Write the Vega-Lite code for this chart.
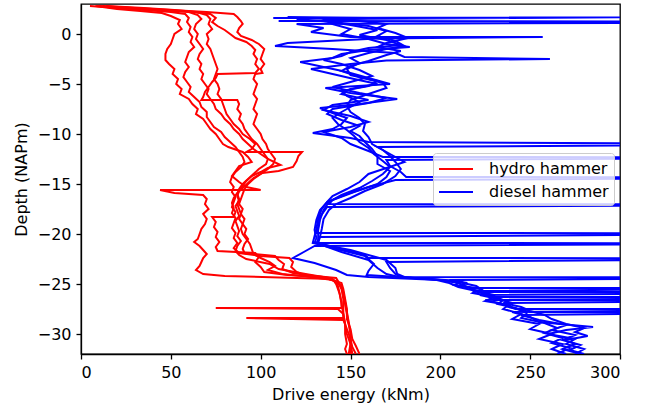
{
"$schema": "https://vega.github.io/schema/vega-lite/v6.json",
"width": 539, "height": 350,
"autosize": {"type": "none"},
"padding": {"left": 81, "top": 4, "right": 26, "bottom": 52},
"config": {
  "font": "DejaVu Sans",
  "view": {"stroke": "black", "strokeWidth": 1.3},
  "axis": {"grid": false, "domainColor": "black", "domainWidth": 1.3, "tickColor": "black", "tickSize": 5, "tickWidth": 1.3, "labelColor": "black", "labelFontSize": 16, "labelPadding": 5, "titleFontSize": 16, "titleFontWeight": "normal", "titleColor": "black", "labelFont": "DejaVu Sans", "titleFont": "DejaVu Sans"},
  "axisX": {"titlePadding": 6},
  "axisY": {"titlePadding": 8},
  "legend": {"orient": "none", "legendX": 352, "legendY": 149, "symbolType": "M-1,0H2.4", "symbolSize": 400, "symbolStrokeWidth": 2, "labelFontSize": 16, "labelFont": "DejaVu Sans", "labelColor": "black", "labelOffset": 29, "padding": 5, "rowPadding": 4, "fillColor": "rgba(255,255,255,0.8)", "strokeColor": "#cccccc", "cornerRadius": 3}
},
"layer": [
{
"data": {"values": [
{"p":1,"d":2.8,"e":5},{"p":1,"d":2.7,"e":12},{"p":1,"d":2.5,"e":20},{"p":1,"d":2.3,"e":33},{"p":1,"d":2.1,"e":45},{"p":1,"d":1.8,"e":50},{"p":1,"d":1.4,"e":55},{"p":1,"d":1.0,"e":54},{"p":1,"d":0.5,"e":56},{"p":1,"d":0,"e":52},{"p":1,"d":-0.5,"e":51},{"p":1,"d":-1,"e":50},{"p":1,"d":-1.5,"e":48},{"p":1,"d":-2,"e":47},{"p":1,"d":-2.6,"e":47},{"p":1,"d":-3,"e":49},{"p":1,"d":-3.5,"e":52},{"p":1,"d":-4,"e":51},{"p":1,"d":-4.5,"e":54},{"p":1,"d":-5,"e":53},{"p":1,"d":-5.5,"e":56},{"p":1,"d":-6,"e":55},{"p":1,"d":-6.5,"e":60},{"p":1,"d":-7,"e":62},{"p":1,"d":-7.5,"e":65},{"p":1,"d":-8,"e":64},{"p":1,"d":-8.5,"e":68},{"p":1,"d":-9,"e":70},{"p":1,"d":-9.5,"e":72},{"p":1,"d":-10,"e":75},{"p":1,"d":-10.5,"e":77},{"p":1,"d":-11,"e":79},{"p":1,"d":-11.3,"e":82},{"p":1,"d":-11.8,"e":90},{"p":1,"d":-12.3,"e":93},{"p":1,"d":-12.8,"e":95},{"p":1,"d":-13.2,"e":88},{"p":1,"d":-13.7,"e":86},{"p":1,"d":-14.2,"e":84},{"p":1,"d":-14.8,"e":88},{"p":1,"d":-15.3,"e":92},{"p":1,"d":-15.6,"e":100},{"p":1,"d":-15.6,"e":44},{"p":1,"d":-15.9,"e":52},{"p":1,"d":-16.1,"e":68},{"p":1,"d":-16.5,"e":70},{"p":1,"d":-17,"e":69},{"p":1,"d":-17.5,"e":71},{"p":1,"d":-18,"e":68},{"p":1,"d":-18.5,"e":70},{"p":1,"d":-19,"e":69},{"p":1,"d":-19.5,"e":67},{"p":1,"d":-20,"e":66},{"p":1,"d":-20.5,"e":65},{"p":1,"d":-20.8,"e":63},{"p":1,"d":-21.2,"e":66},{"p":1,"d":-21.6,"e":68},{"p":1,"d":-22,"e":70},{"p":1,"d":-22.4,"e":68},{"p":1,"d":-22.8,"e":67},{"p":1,"d":-23.2,"e":66},{"p":1,"d":-23.6,"e":64},{"p":1,"d":-24,"e":68},{"p":1,"d":-24.2,"e":80},{"p":1,"d":-24.4,"e":120},{"p":1,"d":-24.5,"e":140},{"p":1,"d":-25,"e":142},{"p":1,"d":-25.5,"e":143},{"p":1,"d":-26,"e":144},{"p":1,"d":-27,"e":145},{"p":1,"d":-28,"e":146},{"p":1,"d":-29,"e":147},{"p":1,"d":-30,"e":147},{"p":1,"d":-31,"e":148},{"p":1,"d":-31.5,"e":147},{"p":1,"d":-32,"e":148},
{"p":2,"d":2.8,"e":8},{"p":2,"d":2.6,"e":20},{"p":2,"d":2.4,"e":35},{"p":2,"d":2.2,"e":50},{"p":2,"d":2,"e":58},{"p":2,"d":1.6,"e":60},{"p":2,"d":1.2,"e":59},{"p":2,"d":0.7,"e":61},{"p":2,"d":0.2,"e":60},{"p":2,"d":-0.3,"e":62},{"p":2,"d":-0.8,"e":61},{"p":2,"d":-1.3,"e":63},{"p":2,"d":-1.8,"e":60},{"p":2,"d":-2.3,"e":59},{"p":2,"d":-2.8,"e":58},{"p":2,"d":-3.3,"e":60},{"p":2,"d":-3.8,"e":58},{"p":2,"d":-4.3,"e":57},{"p":2,"d":-4.8,"e":59},{"p":2,"d":-5.3,"e":61},{"p":2,"d":-5.8,"e":60},{"p":2,"d":-6.3,"e":63},{"p":2,"d":-6.8,"e":66},{"p":2,"d":-7.3,"e":67},{"p":2,"d":-7.8,"e":70},{"p":2,"d":-8.3,"e":70},{"p":2,"d":-8.8,"e":72},{"p":2,"d":-9.3,"e":74},{"p":2,"d":-9.8,"e":78},{"p":2,"d":-10.3,"e":80},{"p":2,"d":-10.8,"e":83},{"p":2,"d":-11.3,"e":86},{"p":2,"d":-11.8,"e":88},{"p":2,"d":-12.3,"e":90},{"p":2,"d":-12.8,"e":91},{"p":2,"d":-13.3,"e":89},{"p":2,"d":-13.8,"e":86},{"p":2,"d":-14.3,"e":84},{"p":2,"d":-14.8,"e":83},{"p":2,"d":-15.3,"e":85},{"p":2,"d":-15.8,"e":84},{"p":2,"d":-16.3,"e":86},{"p":2,"d":-16.8,"e":85},{"p":2,"d":-17.3,"e":84},{"p":2,"d":-17.8,"e":86},{"p":2,"d":-18.3,"e":85},{"p":2,"d":-18.3,"e":73},{"p":2,"d":-18.8,"e":75},{"p":2,"d":-19.3,"e":74},{"p":2,"d":-19.8,"e":76},{"p":2,"d":-20.3,"e":75},{"p":2,"d":-20.8,"e":77},{"p":2,"d":-21.3,"e":75},{"p":2,"d":-21.7,"e":76},{"p":2,"d":-21.9,"e":97},{"p":2,"d":-22.3,"e":99},{"p":2,"d":-22.8,"e":97},{"p":2,"d":-23.3,"e":100},{"p":2,"d":-23.8,"e":102},{"p":2,"d":-24.1,"e":115},{"p":2,"d":-24.3,"e":135},{"p":2,"d":-24.7,"e":141},{"p":2,"d":-25.2,"e":143},{"p":2,"d":-26,"e":144},{"p":2,"d":-26.8,"e":145},{"p":2,"d":-27.4,"e":145},{"p":2,"d":-27.4,"e":75},{"p":2,"d":-27.5,"e":143},{"p":2,"d":-28,"e":146},{"p":2,"d":-29,"e":147},{"p":2,"d":-30,"e":148},{"p":2,"d":-31,"e":150},{"p":2,"d":-32,"e":149},
{"p":3,"d":2.8,"e":10},{"p":3,"d":2.6,"e":28},{"p":3,"d":2.4,"e":45},{"p":3,"d":2.2,"e":60},{"p":3,"d":1.9,"e":65},{"p":3,"d":1.5,"e":67},{"p":3,"d":1,"e":64},{"p":3,"d":0.5,"e":63},{"p":3,"d":0,"e":65},{"p":3,"d":-0.5,"e":64},{"p":3,"d":-1,"e":66},{"p":3,"d":-1.5,"e":68},{"p":3,"d":-2,"e":66},{"p":3,"d":-2.5,"e":65},{"p":3,"d":-3,"e":67},{"p":3,"d":-3.5,"e":66},{"p":3,"d":-4,"e":68},{"p":3,"d":-4.5,"e":67},{"p":3,"d":-5,"e":69},{"p":3,"d":-5.5,"e":71},{"p":3,"d":-6,"e":70},{"p":3,"d":-6.5,"e":72},{"p":3,"d":-7,"e":74},{"p":3,"d":-7.5,"e":75},{"p":3,"d":-8,"e":78},{"p":3,"d":-8.5,"e":80},{"p":3,"d":-9,"e":83},{"p":3,"d":-9.5,"e":85},{"p":3,"d":-10,"e":88},{"p":3,"d":-10.5,"e":90},{"p":3,"d":-11,"e":93},{"p":3,"d":-11.5,"e":96},{"p":3,"d":-12,"e":100},{"p":3,"d":-12.5,"e":104},{"p":3,"d":-13.1,"e":111},{"p":3,"d":-13.4,"e":104},{"p":3,"d":-13.8,"e":100},{"p":3,"d":-14.2,"e":95},{"p":3,"d":-14.7,"e":92},{"p":3,"d":-15.2,"e":90},{"p":3,"d":-15.7,"e":88},{"p":3,"d":-16.2,"e":87},{"p":3,"d":-16.7,"e":88},{"p":3,"d":-17.2,"e":86},{"p":3,"d":-17.7,"e":87},{"p":3,"d":-18.2,"e":88},{"p":3,"d":-18.7,"e":86},{"p":3,"d":-19.2,"e":87},{"p":3,"d":-19.7,"e":88},{"p":3,"d":-20.2,"e":87},{"p":3,"d":-20.7,"e":89},{"p":3,"d":-21.2,"e":87},{"p":3,"d":-21.7,"e":86},{"p":3,"d":-22.1,"e":88},{"p":3,"d":-22.5,"e":92},{"p":3,"d":-23,"e":105},{"p":3,"d":-23.5,"e":110},{"p":3,"d":-24,"e":125},{"p":3,"d":-24.4,"e":138},{"p":3,"d":-24.8,"e":143},{"p":3,"d":-25.5,"e":145},{"p":3,"d":-26.5,"e":146},{"p":3,"d":-27.5,"e":146},{"p":3,"d":-28.4,"e":146},{"p":3,"d":-28.4,"e":92},{"p":3,"d":-28.6,"e":146},{"p":3,"d":-29.5,"e":148},{"p":3,"d":-30.5,"e":150},{"p":3,"d":-31.3,"e":151},{"p":3,"d":-32,"e":153},
{"p":4,"d":2.8,"e":14},{"p":4,"d":2.6,"e":35},{"p":4,"d":2.4,"e":52},{"p":4,"d":2.2,"e":64},{"p":4,"d":1.9,"e":70},{"p":4,"d":1.5,"e":72},{"p":4,"d":1,"e":71},{"p":4,"d":0.5,"e":73},{"p":4,"d":0,"e":70},{"p":4,"d":-0.5,"e":71},{"p":4,"d":-1,"e":70},{"p":4,"d":-1.5,"e":72},{"p":4,"d":-2,"e":73},{"p":4,"d":-2.5,"e":74},{"p":4,"d":-3,"e":75},{"p":4,"d":-3.5,"e":76},{"p":4,"d":-4,"e":75},{"p":4,"d":-4.5,"e":74},{"p":4,"d":-5,"e":76},{"p":4,"d":-5.5,"e":77},{"p":4,"d":-6,"e":76},{"p":4,"d":-6.5,"e":78},{"p":4,"d":-7,"e":79},{"p":4,"d":-7.5,"e":80},{"p":4,"d":-8,"e":81},{"p":4,"d":-8.5,"e":83},{"p":4,"d":-9,"e":85},{"p":4,"d":-9.5,"e":88},{"p":4,"d":-10,"e":90},{"p":4,"d":-10.5,"e":94},{"p":4,"d":-11,"e":97},{"p":4,"d":-11.5,"e":95},{"p":4,"d":-11.8,"e":92},{"p":4,"d":-11.8,"e":123},{"p":4,"d":-12.2,"e":121},{"p":4,"d":-12.7,"e":120},{"p":4,"d":-13.3,"e":118},{"p":4,"d":-13.7,"e":110},{"p":4,"d":-13.9,"e":101},{"p":4,"d":-14.4,"e":96},{"p":4,"d":-14.9,"e":93},{"p":4,"d":-15.4,"e":90},{"p":4,"d":-15.9,"e":87},{"p":4,"d":-16.4,"e":85},{"p":4,"d":-16.9,"e":84},{"p":4,"d":-17.4,"e":85},{"p":4,"d":-17.9,"e":84},{"p":4,"d":-18.4,"e":86},{"p":4,"d":-18.9,"e":85},{"p":4,"d":-19.4,"e":84},{"p":4,"d":-19.9,"e":86},{"p":4,"d":-20.4,"e":85},{"p":4,"d":-20.9,"e":87},{"p":4,"d":-21.4,"e":85},{"p":4,"d":-21.9,"e":88},{"p":4,"d":-22.2,"e":100},{"p":4,"d":-22.4,"e":116},{"p":4,"d":-22.8,"e":118},{"p":4,"d":-23.3,"e":117},{"p":4,"d":-23.8,"e":120},{"p":4,"d":-24.2,"e":125},{"p":4,"d":-24.5,"e":138},{"p":4,"d":-24.9,"e":145},{"p":4,"d":-25.5,"e":146},{"p":4,"d":-26.5,"e":147},{"p":4,"d":-27.5,"e":148},{"p":4,"d":-28.5,"e":148},{"p":4,"d":-29.5,"e":150},{"p":4,"d":-30.5,"e":151},{"p":4,"d":-31.2,"e":153},{"p":4,"d":-32,"e":155},
{"p":5,"d":2.8,"e":12},{"p":5,"d":2.6,"e":30},{"p":5,"d":2.4,"e":50},{"p":5,"d":2.2,"e":70},{"p":5,"d":2,"e":85},{"p":5,"d":1.7,"e":87},{"p":5,"d":1.3,"e":89},{"p":5,"d":1,"e":90},{"p":5,"d":0.6,"e":88},{"p":5,"d":0.2,"e":87},{"p":5,"d":-0.2,"e":89},{"p":5,"d":-0.6,"e":95},{"p":5,"d":-1,"e":99},{"p":5,"d":-1.5,"e":102},{"p":5,"d":-2,"e":101},{"p":5,"d":-2.5,"e":100},{"p":5,"d":-3,"e":102},{"p":5,"d":-3.5,"e":100},{"p":5,"d":-3.9,"e":101},{"p":5,"d":-4,"e":97},{"p":5,"d":-4.5,"e":96},{"p":5,"d":-5,"e":98},{"p":5,"d":-5.5,"e":97},{"p":5,"d":-6,"e":96},{"p":5,"d":-6.5,"e":98},{"p":5,"d":-7,"e":97},{"p":5,"d":-7.5,"e":96},{"p":5,"d":-8,"e":98},{"p":5,"d":-8.5,"e":97},{"p":5,"d":-9,"e":96},{"p":5,"d":-9.5,"e":98},{"p":5,"d":-10,"e":100},{"p":5,"d":-10.5,"e":101},{"p":5,"d":-11,"e":103},{"p":5,"d":-11.5,"e":104},{"p":5,"d":-12,"e":106},{"p":5,"d":-12.5,"e":108},{"p":5,"d":-13,"e":107},{"p":5,"d":-13.5,"e":104},{"p":5,"d":-14,"e":100},{"p":5,"d":-14.5,"e":96},{"p":5,"d":-15,"e":93},{"p":5,"d":-15.5,"e":91},{"p":5,"d":-16,"e":90},{"p":5,"d":-16.5,"e":89},{"p":5,"d":-17,"e":88},{"p":5,"d":-17.5,"e":90},{"p":5,"d":-18,"e":89},{"p":5,"d":-18.5,"e":91},{"p":5,"d":-19,"e":90},{"p":5,"d":-19.5,"e":92},{"p":5,"d":-20,"e":91},{"p":5,"d":-20.5,"e":93},{"p":5,"d":-21,"e":91},{"p":5,"d":-21.5,"e":90},{"p":5,"d":-21.9,"e":91},{"p":5,"d":-22.2,"e":108},{"p":5,"d":-22.6,"e":110},{"p":5,"d":-23,"e":113},{"p":5,"d":-23.5,"e":112},{"p":5,"d":-23.9,"e":118},{"p":5,"d":-24.2,"e":130},{"p":5,"d":-24.4,"e":142},{"p":5,"d":-25,"e":144},{"p":5,"d":-25.8,"e":146},{"p":5,"d":-26.8,"e":147},{"p":5,"d":-27.8,"e":148},{"p":5,"d":-28.8,"e":149},{"p":5,"d":-29.8,"e":150},{"p":5,"d":-30.8,"e":150},{"p":5,"d":-32,"e":151},
{"p":6,"d":2.8,"e":9},{"p":6,"d":2.6,"e":25},{"p":6,"d":2.4,"e":45},{"p":6,"d":2.2,"e":62},{"p":6,"d":2,"e":72},{"p":6,"d":1.6,"e":75},{"p":6,"d":1.2,"e":73},{"p":6,"d":0.8,"e":76},{"p":6,"d":0.4,"e":80},{"p":6,"d":0,"e":83},{"p":6,"d":-0.4,"e":86},{"p":6,"d":-0.8,"e":92},{"p":6,"d":-1.2,"e":95},{"p":6,"d":-1.6,"e":97},{"p":6,"d":-2,"e":96},{"p":6,"d":-2.5,"e":98},{"p":6,"d":-3,"e":97},{"p":6,"d":-3.5,"e":99},{"p":6,"d":-3.9,"e":97},{"p":6,"d":-4,"e":76},{"p":6,"d":-4.4,"e":75},{"p":6,"d":-4.8,"e":73},{"p":6,"d":-5.3,"e":71},{"p":6,"d":-5.8,"e":69},{"p":6,"d":-6.3,"e":68},{"p":6,"d":-6.6,"e":67},{"p":6,"d":-6.6,"e":87},{"p":6,"d":-7,"e":88},{"p":6,"d":-7.5,"e":87},{"p":6,"d":-8,"e":89},{"p":6,"d":-8.5,"e":88},{"p":6,"d":-9,"e":90},{"p":6,"d":-9.5,"e":91},{"p":6,"d":-10,"e":93},{"p":6,"d":-10.5,"e":95},{"p":6,"d":-11,"e":98},{"p":6,"d":-11.5,"e":100},{"p":6,"d":-12,"e":102},{"p":6,"d":-12.5,"e":104},{"p":6,"d":-13,"e":103},{"p":6,"d":-13.5,"e":99},{"p":6,"d":-14,"e":96},{"p":6,"d":-14.5,"e":93},{"p":6,"d":-15,"e":90},{"p":6,"d":-15.5,"e":88},{"p":6,"d":-16,"e":87},{"p":6,"d":-16.5,"e":88},{"p":6,"d":-17,"e":87},{"p":6,"d":-17.5,"e":88},{"p":6,"d":-18,"e":89},{"p":6,"d":-18.5,"e":88},{"p":6,"d":-19,"e":90},{"p":6,"d":-19.5,"e":89},{"p":6,"d":-20,"e":90},{"p":6,"d":-20.5,"e":92},{"p":6,"d":-21,"e":94},{"p":6,"d":-21.5,"e":95},{"p":6,"d":-22,"e":96},{"p":6,"d":-22.4,"e":100},{"p":6,"d":-22.8,"e":105},{"p":6,"d":-23.2,"e":108},{"p":6,"d":-23.6,"e":104},{"p":6,"d":-24,"e":112},{"p":6,"d":-24.3,"e":128},{"p":6,"d":-24.6,"e":140},{"p":6,"d":-25.2,"e":145},{"p":6,"d":-26,"e":146},{"p":6,"d":-27,"e":147},{"p":6,"d":-28,"e":148},{"p":6,"d":-29,"e":149},{"p":6,"d":-30,"e":150},{"p":6,"d":-31,"e":150},{"p":6,"d":-32,"e":150}
]},
"mark": {"type": "line", "clip": true, "strokeWidth": 2},
"encoding": {
  "x": {"field": "e", "type": "quantitative", "scale": {"domain": [0, 300], "nice": false}, "axis": {"title": "Drive energy (kNm)", "values": [0, 50, 100, 150, 200, 250, 300]}},
  "y": {"field": "d", "type": "quantitative", "scale": {"domain": [-32, 3], "nice": false}, "axis": {"title": "Depth (NAPm)", "values": [-30, -25, -20, -15, -10, -5, 0]}},
  "detail": {"field": "p"},
  "color": {"datum": "hydro hammer", "type": "nominal", "scale": {"domain": ["hydro hammer", "diesel hammer"], "range": ["#ff0000", "#0000ff"]}, "legend": {"title": null}},
  "order": {"value": null}
}
},
{
"data": {"values": [
{"p":1,"d":1.6,"e":107},{"p":1,"d":1.65,"e":250},{"p":1,"d":1.7,"e":400},{"p":1,"d":1.75,"e":400},{"p":1,"d":1.5,"e":135},{"p":1,"d":1.0,"e":140},{"p":1,"d":0.5,"e":150},{"p":1,"d":0,"e":145},{"p":1,"d":-0.5,"e":160},{"p":1,"d":-1,"e":170},{"p":1,"d":-1.3,"e":183},{"p":1,"d":-1.6,"e":160},{"p":1,"d":-2,"e":145},{"p":1,"d":-2.4,"e":140},{"p":1,"d":-2.8,"e":122},{"p":1,"d":-3.3,"e":135},{"p":1,"d":-3.8,"e":148},{"p":1,"d":-4.4,"e":160},{"p":1,"d":-5,"e":172},{"p":1,"d":-5.4,"e":136},{"p":1,"d":-5.9,"e":150},{"p":1,"d":-6.5,"e":176},{"p":1,"d":-7,"e":155},{"p":1,"d":-7.4,"e":133},{"p":1,"d":-7.9,"e":140},{"p":1,"d":-8.4,"e":148},{"p":1,"d":-9,"e":145},{"p":1,"d":-9.5,"e":140},{"p":1,"d":-9.9,"e":129},{"p":1,"d":-10.4,"e":150},{"p":1,"d":-10.8,"e":160},{"p":1,"d":-11,"e":400},{"p":1,"d":-11.05,"e":400},{"p":1,"d":-11.3,"e":165},{"p":1,"d":-12,"e":172},{"p":1,"d":-12.8,"e":180},{"p":1,"d":-13.4,"e":170},{"p":1,"d":-14,"e":160},{"p":1,"d":-14.8,"e":155},{"p":1,"d":-15.5,"e":148},{"p":1,"d":-16.2,"e":140},{"p":1,"d":-16.8,"e":137},{"p":1,"d":-17.5,"e":134},{"p":1,"d":-18.5,"e":132},{"p":1,"d":-19.5,"e":131},{"p":1,"d":-20.2,"e":130},{"p":1,"d":-20.9,"e":129},{"p":1,"d":-21.6,"e":150},{"p":1,"d":-22.6,"e":170},{"p":1,"d":-23.4,"e":175},{"p":1,"d":-24,"e":176},{"p":1,"d":-24.3,"e":180},{"p":1,"d":-24.35,"e":400},{"p":1,"d":-24.4,"e":400},{"p":1,"d":-24.6,"e":205},{"p":1,"d":-24.9,"e":215},{"p":1,"d":-25.2,"e":210},{"p":1,"d":-25.5,"e":222},{"p":1,"d":-25.9,"e":218},{"p":1,"d":-26.3,"e":230},{"p":1,"d":-26.7,"e":225},{"p":1,"d":-27.1,"e":238},{"p":1,"d":-27.5,"e":235},{"p":1,"d":-28,"e":245},{"p":1,"d":-28.5,"e":240},{"p":1,"d":-29,"e":255},{"p":1,"d":-29.5,"e":250},{"p":1,"d":-30,"e":262},{"p":1,"d":-30.5,"e":255},{"p":1,"d":-31,"e":268},{"p":1,"d":-31.5,"e":262},{"p":1,"d":-32,"e":270},
{"p":2,"d":1.3,"e":110},{"p":2,"d":1.25,"e":300},{"p":2,"d":1.2,"e":400},{"p":2,"d":1.15,"e":400},{"p":2,"d":1.0,"e":120},{"p":2,"d":0.6,"e":135},{"p":2,"d":0.2,"e":128},{"p":2,"d":-0.3,"e":150},{"p":2,"d":-0.3,"e":257},{"p":2,"d":-0.45,"e":165},{"p":2,"d":-0.9,"e":115},{"p":2,"d":-1.2,"e":108},{"p":2,"d":-1.5,"e":140},{"p":2,"d":-1.9,"e":175},{"p":2,"d":-2.3,"e":180},{"p":2,"d":-2.5,"e":261},{"p":2,"d":-2.65,"e":170},{"p":2,"d":-3,"e":150},{"p":2,"d":-3.5,"e":128},{"p":2,"d":-4,"e":140},{"p":2,"d":-4.5,"e":152},{"p":2,"d":-5,"e":165},{"p":2,"d":-5.5,"e":150},{"p":2,"d":-6,"e":145},{"p":2,"d":-6.6,"e":160},{"p":2,"d":-7.1,"e":140},{"p":2,"d":-7.6,"e":135},{"p":2,"d":-8.2,"e":150},{"p":2,"d":-8.8,"e":160},{"p":2,"d":-9.3,"e":150},{"p":2,"d":-9.8,"e":135},{"p":2,"d":-10.4,"e":145},{"p":2,"d":-11,"e":150},{"p":2,"d":-11.7,"e":160},{"p":2,"d":-12.3,"e":168},{"p":2,"d":-12.33,"e":400},{"p":2,"d":-12.38,"e":400},{"p":2,"d":-12.6,"e":170},{"p":2,"d":-13.2,"e":172},{"p":2,"d":-13.8,"e":178},{"p":2,"d":-14.3,"e":181},{"p":2,"d":-14.33,"e":400},{"p":2,"d":-14.38,"e":400},{"p":2,"d":-14.6,"e":175},{"p":2,"d":-15.3,"e":160},{"p":2,"d":-16,"e":148},{"p":2,"d":-16.8,"e":137},{"p":2,"d":-17.6,"e":133},{"p":2,"d":-18.6,"e":131},{"p":2,"d":-19.6,"e":130},{"p":2,"d":-20.4,"e":131},{"p":2,"d":-20.9,"e":130},{"p":2,"d":-21.4,"e":140},{"p":2,"d":-22.2,"e":158},{"p":2,"d":-23,"e":163},{"p":2,"d":-23.7,"e":160},{"p":2,"d":-24.1,"e":159},{"p":2,"d":-24.4,"e":185},{"p":2,"d":-24.7,"e":212},{"p":2,"d":-25.1,"e":208},{"p":2,"d":-25.4,"e":220},{"p":2,"d":-25.4,"e":400},{"p":2,"d":-25.45,"e":400},{"p":2,"d":-25.7,"e":218},{"p":2,"d":-26.1,"e":228},{"p":2,"d":-26.6,"e":235},{"p":2,"d":-27,"e":232},{"p":2,"d":-27.4,"e":242},{"p":2,"d":-27.9,"e":248},{"p":2,"d":-28.4,"e":245},{"p":2,"d":-28.9,"e":258},{"p":2,"d":-29.4,"e":265},{"p":2,"d":-29.9,"e":258},{"p":2,"d":-30.4,"e":268},{"p":2,"d":-30.9,"e":262},{"p":2,"d":-31.4,"e":272},{"p":2,"d":-32,"e":265},
{"p":3,"d":1.7,"e":115},{"p":3,"d":1.6,"e":160},{"p":3,"d":1.3,"e":135},{"p":3,"d":0.9,"e":150},{"p":3,"d":0.4,"e":165},{"p":3,"d":-0.1,"e":155},{"p":3,"d":-0.6,"e":170},{"p":3,"d":-1.1,"e":178},{"p":3,"d":-1.4,"e":160},{"p":3,"d":-1.8,"e":150},{"p":3,"d":-2.2,"e":145},{"p":3,"d":-2.6,"e":135},{"p":3,"d":-3,"e":145},{"p":3,"d":-3.6,"e":155},{"p":3,"d":-4.2,"e":162},{"p":3,"d":-4.8,"e":150},{"p":3,"d":-5.3,"e":140},{"p":3,"d":-5.9,"e":155},{"p":3,"d":-6.4,"e":170},{"p":3,"d":-6.9,"e":160},{"p":3,"d":-7.5,"e":140},{"p":3,"d":-8,"e":137},{"p":3,"d":-8.6,"e":145},{"p":3,"d":-9.2,"e":155},{"p":3,"d":-9.7,"e":150},{"p":3,"d":-10.2,"e":155},{"p":3,"d":-10.8,"e":158},{"p":3,"d":-11.5,"e":162},{"p":3,"d":-12.2,"e":165},{"p":3,"d":-13,"e":165},{"p":3,"d":-13.7,"e":172},{"p":3,"d":-14.3,"e":170},{"p":3,"d":-15,"e":165},{"p":3,"d":-15.8,"e":152},{"p":3,"d":-16.6,"e":140},{"p":3,"d":-17,"e":138},{"p":3,"d":-17.05,"e":400},{"p":3,"d":-17.1,"e":400},{"p":3,"d":-17.3,"e":137},{"p":3,"d":-18.3,"e":133},{"p":3,"d":-19.3,"e":132},{"p":3,"d":-19.9,"e":131},{"p":3,"d":-19.93,"e":400},{"p":3,"d":-19.98,"e":400},{"p":3,"d":-20.3,"e":133},{"p":3,"d":-20.9,"e":131},{"p":3,"d":-21.8,"e":145},{"p":3,"d":-22.6,"e":160},{"p":3,"d":-23.4,"e":165},{"p":3,"d":-24,"e":170},{"p":3,"d":-24.3,"e":177},{"p":3,"d":-24.5,"e":195},{"p":3,"d":-24.8,"e":210},{"p":3,"d":-25.2,"e":220},{"p":3,"d":-25.8,"e":225},{"p":3,"d":-25.8,"e":400},{"p":3,"d":-25.85,"e":400},{"p":3,"d":-26.1,"e":222},{"p":3,"d":-26.5,"e":232},{"p":3,"d":-26.9,"e":240},{"p":3,"d":-27.3,"e":238},{"p":3,"d":-27.8,"e":250},{"p":3,"d":-27.8,"e":400},{"p":3,"d":-27.85,"e":400},{"p":3,"d":-28.1,"e":245},{"p":3,"d":-28.6,"e":255},{"p":3,"d":-29.1,"e":270},{"p":3,"d":-29.6,"e":262},{"p":3,"d":-30.1,"e":275},{"p":3,"d":-30.6,"e":268},{"p":3,"d":-31.1,"e":278},{"p":3,"d":-31.6,"e":272},{"p":3,"d":-32,"e":280},
{"p":4,"d":1.5,"e":120},{"p":4,"d":1.2,"e":140},{"p":4,"d":0.8,"e":160},{"p":4,"d":0.3,"e":170},{"p":4,"d":-0.2,"e":165},{"p":4,"d":-0.7,"e":175},{"p":4,"d":-1.2,"e":180},{"p":4,"d":-1.5,"e":170},{"p":4,"d":-1.9,"e":160},{"p":4,"d":-2.4,"e":150},{"p":4,"d":-2.9,"e":155},{"p":4,"d":-3.5,"e":148},{"p":4,"d":-4.1,"e":150},{"p":4,"d":-4.7,"e":165},{"p":4,"d":-5.2,"e":160},{"p":4,"d":-5.7,"e":145},{"p":4,"d":-6.2,"e":148},{"p":4,"d":-6.8,"e":155},{"p":4,"d":-7.3,"e":150},{"p":4,"d":-7.8,"e":145},{"p":4,"d":-8.4,"e":140},{"p":4,"d":-9,"e":143},{"p":4,"d":-9.6,"e":148},{"p":4,"d":-10.2,"e":152},{"p":4,"d":-10.8,"e":155},{"p":4,"d":-11.4,"e":160},{"p":4,"d":-12,"e":163},{"p":4,"d":-12.7,"e":168},{"p":4,"d":-13.3,"e":172},{"p":4,"d":-14,"e":168},{"p":4,"d":-14.7,"e":162},{"p":4,"d":-15.4,"e":155},{"p":4,"d":-16.1,"e":145},{"p":4,"d":-16.8,"e":138},{"p":4,"d":-17.6,"e":135},{"p":4,"d":-18.6,"e":133},{"p":4,"d":-19.6,"e":132},{"p":4,"d":-20.5,"e":132},{"p":4,"d":-20.9,"e":132},{"p":4,"d":-20.93,"e":400},{"p":4,"d":-20.98,"e":400},{"p":4,"d":-21.2,"e":130},{"p":4,"d":-21.8,"e":124},{"p":4,"d":-22.4,"e":118},{"p":4,"d":-22.9,"e":130},{"p":4,"d":-23.6,"e":142},{"p":4,"d":-24.1,"e":148},{"p":4,"d":-24.3,"e":160},{"p":4,"d":-24.6,"e":200},{"p":4,"d":-24.9,"e":210},{"p":4,"d":-25.3,"e":215},{"p":4,"d":-25.8,"e":222},{"p":4,"d":-26.3,"e":228},{"p":4,"d":-26.3,"e":400},{"p":4,"d":-26.35,"e":400},{"p":4,"d":-26.6,"e":225},{"p":4,"d":-27,"e":235},{"p":4,"d":-27.5,"e":242},{"p":4,"d":-27.5,"e":400},{"p":4,"d":-27.55,"e":400},{"p":4,"d":-27.8,"e":240},{"p":4,"d":-28.3,"e":250},{"p":4,"d":-28.8,"e":255},{"p":4,"d":-29.3,"e":285},{"p":4,"d":-29.6,"e":270},{"p":4,"d":-30,"e":260},{"p":4,"d":-30.5,"e":275},{"p":4,"d":-31,"e":270},{"p":4,"d":-31.5,"e":280},{"p":4,"d":-32,"e":275},
{"p":5,"d":1.6,"e":125},{"p":5,"d":1.4,"e":150},{"p":5,"d":1.0,"e":170},{"p":5,"d":0.6,"e":165},{"p":5,"d":0.1,"e":175},{"p":5,"d":-0.4,"e":182},{"p":5,"d":-0.9,"e":170},{"p":5,"d":-1.3,"e":165},{"p":5,"d":-1.7,"e":178},{"p":5,"d":-2.1,"e":170},{"p":5,"d":-2.7,"e":160},{"p":5,"d":-3.2,"e":150},{"p":5,"d":-3.7,"e":145},{"p":5,"d":-4.3,"e":155},{"p":5,"d":-4.9,"e":168},{"p":5,"d":-5.4,"e":170},{"p":5,"d":-6,"e":160},{"p":5,"d":-6.6,"e":150},{"p":5,"d":-7.2,"e":148},{"p":5,"d":-7.8,"e":150},{"p":5,"d":-8.4,"e":155},{"p":5,"d":-9,"e":158},{"p":5,"d":-9.7,"e":157},{"p":5,"d":-10.3,"e":160},{"p":5,"d":-11,"e":162},{"p":5,"d":-11.6,"e":168},{"p":5,"d":-12.2,"e":172},{"p":5,"d":-12.8,"e":175},{"p":5,"d":-13.5,"e":178},{"p":5,"d":-14.2,"e":175},{"p":5,"d":-15,"e":168},{"p":5,"d":-15.7,"e":158},{"p":5,"d":-16.4,"e":150},{"p":5,"d":-17,"e":142},{"p":5,"d":-17.6,"e":138},{"p":5,"d":-18.5,"e":135},{"p":5,"d":-19.5,"e":134},{"p":5,"d":-20.3,"e":133},{"p":5,"d":-20.9,"e":132},{"p":5,"d":-21.5,"e":145},{"p":5,"d":-22.1,"e":158},{"p":5,"d":-22.4,"e":160},{"p":5,"d":-22.43,"e":400},{"p":5,"d":-22.48,"e":400},{"p":5,"d":-22.8,"e":170},{"p":5,"d":-23.4,"e":172},{"p":5,"d":-24,"e":175},{"p":5,"d":-24.3,"e":178},{"p":5,"d":-24.6,"e":198},{"p":5,"d":-24.9,"e":205},{"p":5,"d":-25.3,"e":210},{"p":5,"d":-25.7,"e":220},{"p":5,"d":-26.1,"e":230},{"p":5,"d":-26.6,"e":230},{"p":5,"d":-26.6,"e":400},{"p":5,"d":-26.65,"e":400},{"p":5,"d":-26.9,"e":235},{"p":5,"d":-27.3,"e":245},{"p":5,"d":-27.7,"e":250},{"p":5,"d":-28.1,"e":258},{"p":5,"d":-28.5,"e":262},{"p":5,"d":-29,"e":270},{"p":5,"d":-29.4,"e":280},{"p":5,"d":-29.8,"e":275},{"p":5,"d":-30.2,"e":282},{"p":5,"d":-30.6,"e":270},{"p":5,"d":-31,"e":275},{"p":5,"d":-31.5,"e":268},{"p":5,"d":-32,"e":278}
]},
"mark": {"type": "line", "clip": true, "strokeWidth": 2},
"encoding": {
  "x": {"field": "e", "type": "quantitative"},
  "y": {"field": "d", "type": "quantitative"},
  "detail": {"field": "p"},
  "color": {"datum": "diesel hammer", "type": "nominal"},
  "order": {"value": null}
}
}
]
}
